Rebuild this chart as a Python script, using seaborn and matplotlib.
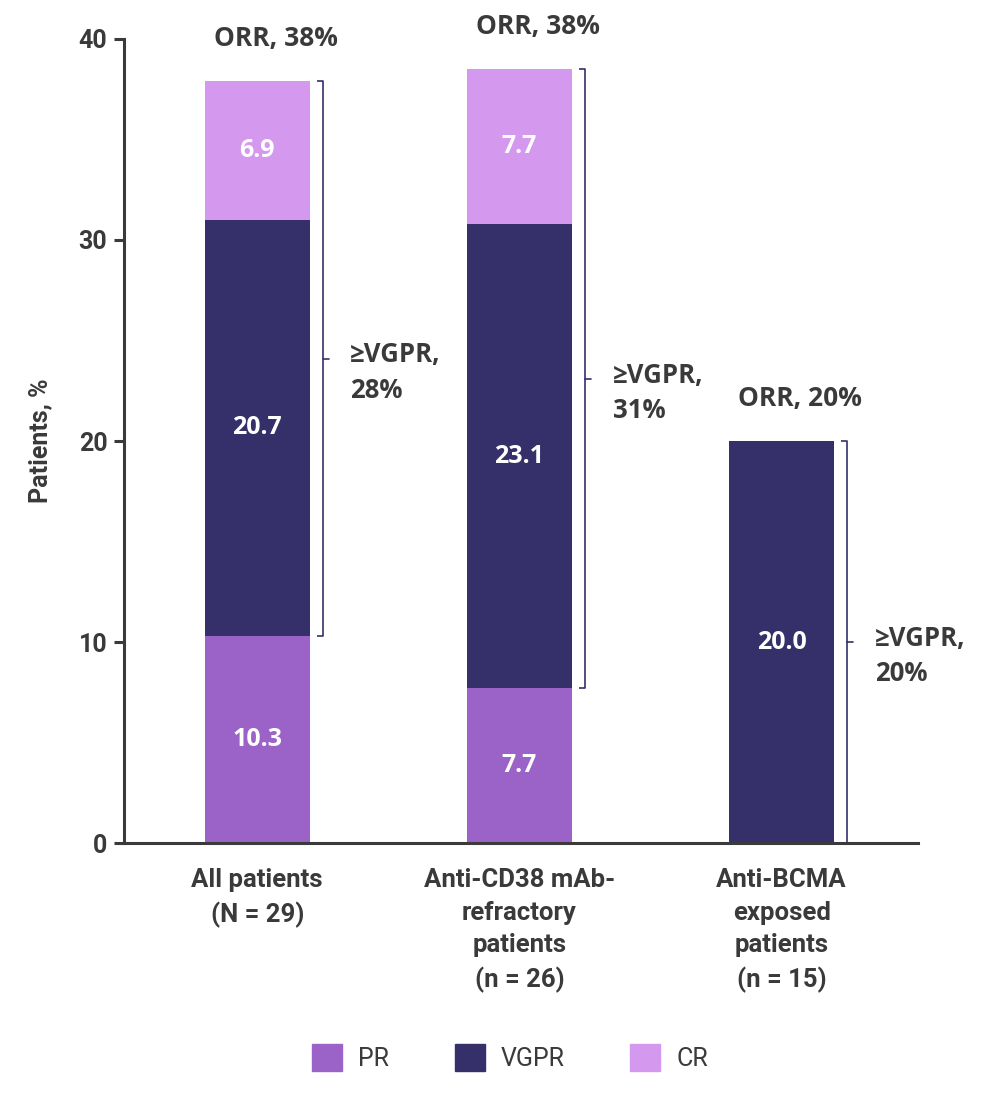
import pandas as pd
import matplotlib.pyplot as plt
import seaborn as sns
from matplotlib.patches import Patch

# Response data (% of patients)
groups = ['All patients\n(N = 29)',
          'Anti-CD38 mAb-\nrefractory\npatients\n(n = 26)',
          'Anti-BCMA\nexposed\npatients\n(n = 15)']
pr = [10.3, 7.7, 0.0]
vgpr = [20.7, 23.1, 20.0]
cr = [6.9, 7.7, 0.0]
orr_labels = ['ORR, 38%', 'ORR, 38%', 'ORR, 20%']
vgpr_plus_labels = ['\u2265VGPR,\n28%', '\u2265VGPR,\n31%', '\u2265VGPR,\n20%']

c_pr = '#9b62c8'
c_vgpr = '#35306a'
c_cr = '#d498ee'
c_text = '#3a3a3a'

sns.set_style('white')
plt.rcParams['font.family'] = ['Roboto', 'DejaVu Sans']
wide = ['Open Sans', 'DejaVu Sans']

df = pd.DataFrame({'group': groups, 'PR': pr, 'VGPR': vgpr, 'CR': cr})
df['base_vgpr'] = df['PR']
df['base_cr'] = df['PR'] + df['VGPR']
df['top'] = df['base_cr'] + df['CR']

fig = plt.figure(figsize=(10, 10.98), dpi=100)
ax = fig.add_axes([0.124, 0.2322, 0.794, 0.7323])

w = 0.4
sns.barplot(data=df, x='group', y='PR', color=c_pr, width=w, ax=ax,
            saturation=1, linewidth=0)
sns.barplot(data=df, x='group', y='VGPR', bottom=df['base_vgpr'], color=c_vgpr,
            width=w, ax=ax, saturation=1, linewidth=0)
sns.barplot(data=df, x='group', y='CR', bottom=df['base_cr'], color=c_cr,
            width=w, ax=ax, saturation=1, linewidth=0)

# segment value labels
for i, row in df.iterrows():
    for col, base in [('PR', 0), ('VGPR', row['base_vgpr']), ('CR', row['base_cr'])]:
        v = row[col]
        if v > 0:
            ax.text(i, base + v / 2, f'{v:.1f}', ha='center', va='center',
                    color='white', fontsize=18, fontweight='bold', family=wide)

# ORR labels above bars
for i, row in df.iterrows():
    ax.text(i + 0.07, row['top'] + 2.1, orr_labels[i], ha='center', va='center',
            color=c_text, fontsize=19, fontweight='bold', clip_on=False,
            family=wide)

# >=VGPR brackets
for i, row in df.iterrows():
    lo = row['base_vgpr']
    hi = row['top']
    bx = i + w / 2 + 0.05
    cap = 0.023
    ax.plot([bx - cap, bx, bx, bx - cap], [hi, hi, lo, lo], color=c_vgpr,
            lw=1.2, clip_on=False, solid_capstyle='butt')
    mid = (lo + hi) / 2
    ax.plot([bx, bx + cap], [mid, mid], color=c_vgpr, lw=1.2, clip_on=False)
    ax.text(bx + 0.105, mid - 0.7, vgpr_plus_labels[i], ha='left', va='center',
            color=c_text, fontsize=18.5, fontweight='bold', linespacing=1.4,
            family=wide)

ax.set_xlim(-0.508, 2.52)
ax.set_ylim(0, 40)
ax.set_yticks([0, 10, 20, 30, 40])
ax.set_xlabel('')
ax.set_ylabel('Patients, %', fontsize=18, fontweight='bold', color=c_text, labelpad=19)

sns.despine(ax=ax)
for s in ['left', 'bottom']:
    ax.spines[s].set_color(c_text)
    ax.spines[s].set_linewidth(2.2)
ax.tick_params(axis='y', length=7, width=2.2, color=c_text, labelsize=18,
               labelcolor=c_text, pad=5, left=True)
ax.tick_params(axis='x', length=0, labelsize=18.5, labelcolor=c_text, pad=18)
for lbl in ax.get_yticklabels():
    lbl.set_fontweight('bold')
for lbl in ax.get_xticklabels():
    lbl.set_fontweight('bold')
    lbl.set_linespacing(1.45)

handles = [Patch(color=c_pr, label='PR'), Patch(color=c_vgpr, label='VGPR'),
           Patch(color=c_cr, label='CR')]
fig.legend(handles=handles, loc='center', bbox_to_anchor=(0.51, 0.037), ncol=3,
           frameon=False, fontsize=18, handlelength=1.2, handleheight=1.3,
           handletextpad=0.65, columnspacing=2.6, labelcolor=c_text)

fig.savefig('out.png', dpi=100)
